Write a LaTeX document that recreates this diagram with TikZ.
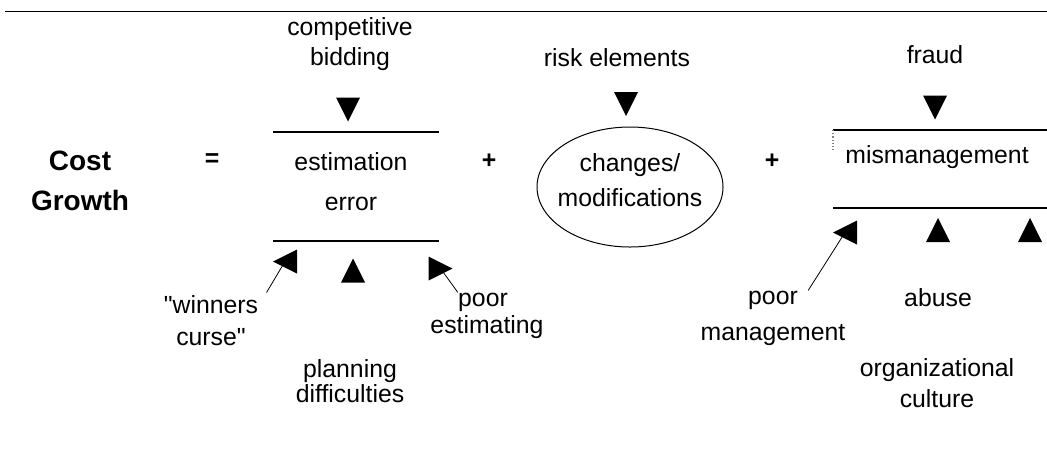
\documentclass[tikz,border=0pt]{standalone}
\usepackage{fontspec}
\setmainfont{Liberation Sans}
\usetikzlibrary{shapes.geometric}

\begin{document}
\begin{tikzpicture}[x=0.5pt,y=-0.5pt,
	lbl/.style={font=\fontsize{12.4}{#1}\selectfont,align=center,inner sep=0pt},
	lbl/.default=15pt,
	op/.style={font=\fontsize{12.4}{15}\selectfont\bfseries,inner sep=0pt},
	frame/.style={inner sep=0pt,outer sep=0pt},
	rule/.style={line width=0.6pt},
	lead/.style={line width=0.4pt}]
	\useasboundingbox (0,0) rectangle (1047,452);
	%top rule
	\draw [line width=0.5pt] (5,11) -- (1047,11);

	%equation
	\node [lbl=20pt,font=\fontsize{14}{20}\selectfont\bfseries] (cost) at (80,181) {Cost\\Growth};
	\node [op] (eq) at (212,160) {=};
	\node [op] (plusA) at (489,161) {+};
	\node [op] (plusB) at (772,161) {+};

	%terms
	\node [frame,minimum width=83pt,minimum height=54.5pt] (estbox) at (356,186.5) {};
	\draw [rule] (estbox.north west) -- (estbox.north east);
	\draw [rule] (estbox.south west) -- (estbox.south east);
	\node [lbl=20pt] (est) at (351,182) {estimation\\error};

	\node [frame,ellipse,draw,line width=0.5pt,minimum width=93pt,minimum height=60pt] (chgell) at (630,187) {};
	\node [lbl=17.5pt] (chg) at (630,180) {changes/\\modifications};

	\node [frame,minimum width=107pt,minimum height=39pt] (misbox) at (940,169) {};
	\draw [rule] (misbox.north west) -- (misbox.north east);
	\draw [rule] (misbox.south west) -- (misbox.south east);
	\draw [rule,densely dotted,gray] (misbox.north west) -- ++(0,20);
	\node [lbl] (mis) at (937,157) {mismanagement};

	%causes
	\node [lbl] (comp) at (350,44) {competitive\\bidding};
	\node [lbl] (risk) at (617,58) {risk elements};
	\node [lbl] (fraud) at (935,55) {fraud};
	\node [lbl=16pt] (win) at (211,321) {\textquotedbl winners\\curse\textquotedbl};
	\node [lbl] (poorE) at (483,302) {poor};
	\node [lbl] (estim) at (487,327) {estimating};
	\node [lbl=12.5pt] (plan) at (350,381) {planning\\difficulties};
	\node [lbl] (poorM) at (773,300) {poor};
	\node [lbl] (mgmt) at (773,335) {management};
	\node [lbl] (abuse) at (938,298) {abuse};
	\node [lbl=15.5pt] (org) at (937,383) {organizational\\culture};

	%leader lines
	\coordinate (twin) at (285,261.5);
	\coordinate (test) at (440.5,268.5);
	\coordinate (tmgmt) at (845,232.5);
	\draw [lead] ([shift={(8,-3)}]win.north east) -- (twin);
	\draw [lead] (poorE.north west) -- (test);
	\draw [lead] ([xshift=5pt]poorM.north east) -- (tmgmt);

	%triangles
	\foreach \nm/\tx/\ty/\rot in {tcomp/348/109.5/180, trisk/626/104/180, tfraud/935/107.5/180,
		twin/285/261.5/90, tplan/353/270.5/0, test/440.5/268.5/-90,
		tmgmt/845/232.5/90, tabuse/938/230/0, torg/1030/230/0} {
		\fill [shift={(\tx,\ty)},rotate=\rot] (0,-12) -- (12,12) -- (-12,12) -- cycle;
	}
\end{tikzpicture}
\end{document}
